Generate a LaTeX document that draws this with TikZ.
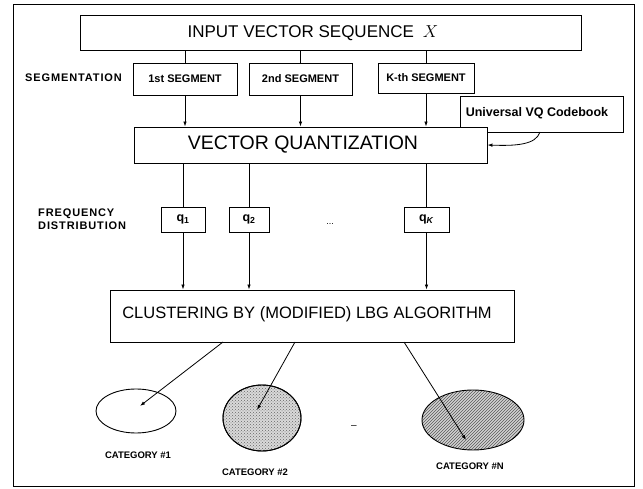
\documentclass[tikz,border=0pt]{standalone}
\usepackage{fontspec}
\setmainfont{Liberation Sans}
\usetikzlibrary{arrows.meta,patterns,shapes.geometric}
\begin{document}
\begin{tikzpicture}[x=1pt,y=-1pt,
  box/.style={draw,line width=0.9pt,fill=white,inner sep=0pt},
  ln/.style={line width=0.8pt},
  arr/.style={line width=0.8pt,-{Latex[length=5pt,width=3.5pt]}},
  segtxt/.style={font=\fontsize{11}{13}\selectfont\bfseries},
  sidetxt/.style={font=\fontsize{11}{13.5}\selectfont\bfseries\addfontfeature{LetterSpace=8},align=left,inner sep=0pt},
  bigtxt/.style={font=\fontsize{17}{20}\selectfont,inner sep=0pt},
  cattxt/.style={font=\fontsize{9.5}{11}\selectfont\bfseries,inner sep=0pt},
  qtxt/.style={font=\fontsize{12.5}{15}\selectfont\bfseries}]
\useasboundingbox (0,0) rectangle (643,489);
\draw[line width=1pt] (13,5) rectangle (634,486);
% top box
\node[box,minimum width=501,minimum height=35] (inp) at (330.5,32.5) {};
\node[bigtxt] (inpt) at (313,33) {INPUT VECTOR SEQUENCE\hspace{9pt}$X$};
% segmentation
\node[sidetxt,anchor=west] (segl) at (25,78) {SEGMENTATION};
\node[box,segtxt,minimum width=104,minimum height=32] (s1) at (185,79) {1st SEGMENT};
\node[box,segtxt,minimum width=103,minimum height=32] (s2) at (300.5,79) {2nd SEGMENT};
\node[box,segtxt,minimum width=96,minimum height=30] (sk) at (426,78) {K-th SEGMENT};
\foreach \s in {s1,s2,sk} \draw[ln] (\s.north |- inp.south) -- (\s.north);
% codebook (behind VQ)
\node[box,minimum width=163,minimum height=36] (cb) at (541.5,114) {};
\node[font=\fontsize{12.5}{14}\selectfont\bfseries,inner sep=0pt] (cbt) at (537,113) {Universal VQ Codebook};
% VQ
\node[box,minimum width=353,minimum height=36] (vq) at (310.5,145) {};
\node[font=\fontsize{19.5}{22}\selectfont,inner sep=0pt] (vqt) at (303,145) {VECTOR QUANTIZATION};
\foreach \s in {s1,s2,sk} \draw[arr] (\s.south) -- (\s.south |- vq.north);
\coordinate (cbs) at (540,132);
\draw[arr] (cbs) .. controls (536,145) and (515,146) .. (vq.east);
% frequency distribution
\node[sidetxt,anchor=west] (fdl) at (38,219) {FREQUENCY\\DISTRIBUTION};
\node[box,qtxt,minimum width=44,minimum height=25] (q1) at (183,219.5) {q\textsubscript{1}};
\node[box,qtxt,minimum width=40,minimum height=25] (q2) at (249,219.5) {q\textsubscript{2}};
\node[box,qtxt,minimum width=45,minimum height=25] (qk) at (426.5,219.5) {q\textsubscript{\textit{K}}};
\node[font=\fontsize{9}{10}\selectfont] (qdots) at (330,224) {...};
% clustering
\node[box,minimum width=404,minimum height=52] (clu) at (312,316) {};
\node[font=\fontsize{16.5}{19}\selectfont,inner sep=0pt] (clut) at (307,314) {CLUSTERING BY (MODIFIED) LBG ALGORITHM};
\foreach \q in {q1,q2,qk} {
  \draw[ln] (\q.north |- vq.south) -- (\q.north);
  \draw[arr] (\q.south) -- (\q.south |- clu.north);
}
% categories
\node[ellipse,draw,line width=0.9pt,minimum width=80,minimum height=44,inner sep=0pt] (c1) at (136,411) {};
\node[ellipse,draw,line width=0.9pt,minimum width=78,minimum height=66,inner sep=0pt,fill=gray!30] (c2) at (262,418) {};
\node[ellipse,draw,line width=0.9pt,minimum width=78,minimum height=66,inner sep=0pt,pattern=crosshatch dots,pattern color=gray!80!black] (c2b) at (262,418) {};
\node[ellipse,line width=0.9pt,minimum width=102,minimum height=60,inner sep=0pt,fill=gray!35] (cn) at (473,420) {};
\node[ellipse,draw,line width=0.9pt,minimum width=102,minimum height=60,inner sep=0pt,pattern=north east lines,pattern color=gray!70!black] (cnb) at (473,420) {};
\node[font=\fontsize{10}{11}\selectfont] (cdots) at (354,427) {--};
\coordinate (f1) at (223,342); \coordinate (t1) at (140,406);
\coordinate (f2) at (295,342); \coordinate (t2) at (257,410);
\coordinate (f3) at (404,342); \coordinate (t3) at (466,440);
\draw[arr] (f1) -- (t1);
\draw[arr] (f2) -- (t2);
\draw[arr] (f3) -- (t3);
\node[cattxt] (l1) at (138,455) {CATEGORY \#1};
\node[cattxt] (l2) at (255,472) {CATEGORY \#2};
\node[cattxt] (ln) at (470,466) {CATEGORY \#N};
\end{tikzpicture}
\end{document}
